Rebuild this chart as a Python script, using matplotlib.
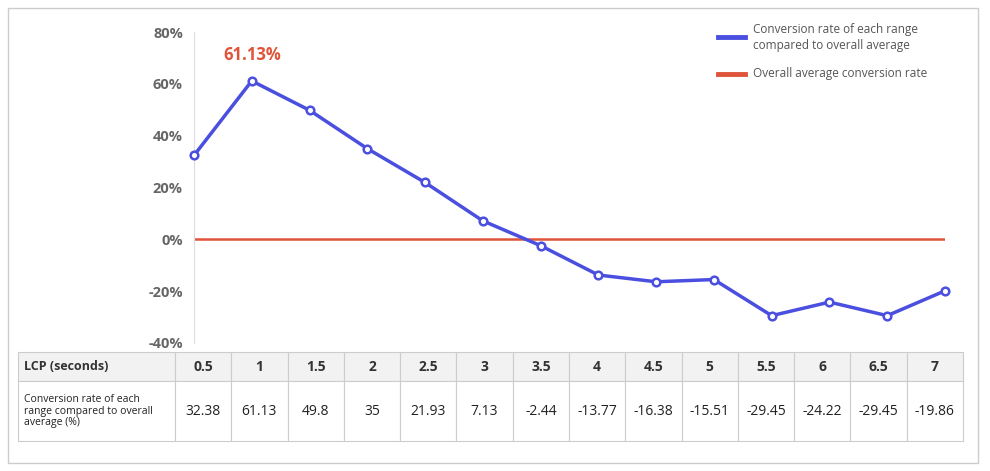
import matplotlib
matplotlib.use("Agg")
import matplotlib.pyplot as plt

plt.rcParams['font.family'] = ['Open Sans', 'DejaVu Sans']

lcp = [0.5, 1, 1.5, 2, 2.5, 3, 3.5, 4, 4.5, 5, 5.5, 6, 6.5, 7]
lcp_labels = ["0.5", "1", "1.5", "2", "2.5", "3", "3.5", "4", "4.5", "5", "5.5", "6", "6.5", "7"]
rates = [32.38, 61.13, 49.8, 35, 21.93, 7.13, -2.44, -13.77, -16.38, -15.51, -29.45, -24.22, -29.45, -19.86]
rate_labels = ["32.38", "61.13", "49.8", "35", "21.93", "7.13", "-2.44", "-13.77", "-16.38", "-15.51", "-29.45", "-24.22", "-29.45", "-19.86"]
yticks = [-40, -20, 0, 20, 40, 60, 80]

W, H = 990, 471
fig = plt.figure(figsize=(W/100, H/100), dpi=100)
fig.patches.append(plt.Rectangle((8/W, 8/H), 970/W, 455/H, transform=fig.transFigure,
                                 fill=False, edgecolor='#cccccc', lw=1))

blue = '#4a4fe0'
red = '#e0543a'

# plot axes: x 0.5 at px 194, 7 at 945 ; y 80 at py 32, -40 at py 343
x0, x1 = 194, 945
y80, ym40 = 32, 343
ax = fig.add_axes([x0/W, 1 - ym40/H, (x1-x0)/W, (ym40-y80)/H])
ax.set_xlim(0.5, 7)
ax.set_ylim(-40, 80)
ax.axhline(0, color=red, lw=1.8)
ax.plot(lcp, rates, color=blue, lw=2.5, marker='o', ms=5.5, mfc='white', mec=blue, mew=1.8, clip_on=False, zorder=3)
ax.annotate("61.13%", (1, 61.13), xytext=(0, 12), textcoords='offset points', ha='center', va='bottom',
            color=red, fontsize=12, fontweight='bold')
ax.set_yticks(yticks)
ax.set_yticklabels([f"{v}%" for v in yticks], color='#666666', fontsize=10.5, fontweight='bold')
ax.set_xticks([])
ax.tick_params(axis='y', length=0, pad=8)
for s in ['top', 'right', 'bottom']:
    ax.spines[s].set_visible(False)
ax.spines['left'].set_color('#dddddd')
ax.patch.set_alpha(0)

# legend
fig.add_artist(plt.Line2D([718/W, 745/W], [1-37/H]*2, color=blue, lw=3.5))
fig.text(753/W, 1-37/H, "Conversion rate of each range\ncompared to overall average", fontsize=8.5,
         color='#555555', va='center', linespacing=1.3)
fig.add_artist(plt.Line2D([718/W, 745/W], [1-74/H]*2, color=red, lw=3.5))
fig.text(753/W, 1-74/H, "Overall average conversion rate", fontsize=8.5, color='#555555', va='center')

# table
tx0, tx1, ty0, ty1 = 18, 963, 352, 441
tax = fig.add_axes([tx0/W, 1-ty1/H, (tx1-tx0)/W, (ty1-ty0)/H])
tax.axis('off')
first_w = 157
cw = (tx1 - tx0 - first_w) / len(lcp)
colw = [first_w/(tx1-tx0)] + [cw/(tx1-tx0)]*len(lcp)
cells = [["LCP (seconds)"] + lcp_labels,
         ["Conversion rate of each\nrange compared to overall\naverage (%)"] + rate_labels]
tbl = tax.table(cellText=cells, colWidths=colw, bbox=[0, 0, 1, 1], cellLoc='center')
tbl.auto_set_font_size(False)
for (r, c), cell in tbl.get_celld().items():
    cell.set_edgecolor('#cccccc')
    cell.set_linewidth(0.8)
    if r == 0:
        cell.set_height(0.33)
        cell.set_facecolor('#f2f2f2')
        cell.get_text().set_fontweight('bold')
        cell.get_text().set_fontsize(10 if c else 9)
        cell.get_text().set_color('#333333')
    else:
        cell.set_height(0.67)
        cell.get_text().set_fontsize(10)
        cell.get_text().set_color('#222222')
    if c == 0:
        cell.get_text().set_ha('left')
        cell._loc = 'left'
        cell.PAD = 0.04
        if r == 1:
            cell.get_text().set_fontsize(7.5)
            cell.get_text().set_fontweight('normal')
            cell.get_text().set_linespacing(1.1)

fig.savefig("out.png", dpi=100)
